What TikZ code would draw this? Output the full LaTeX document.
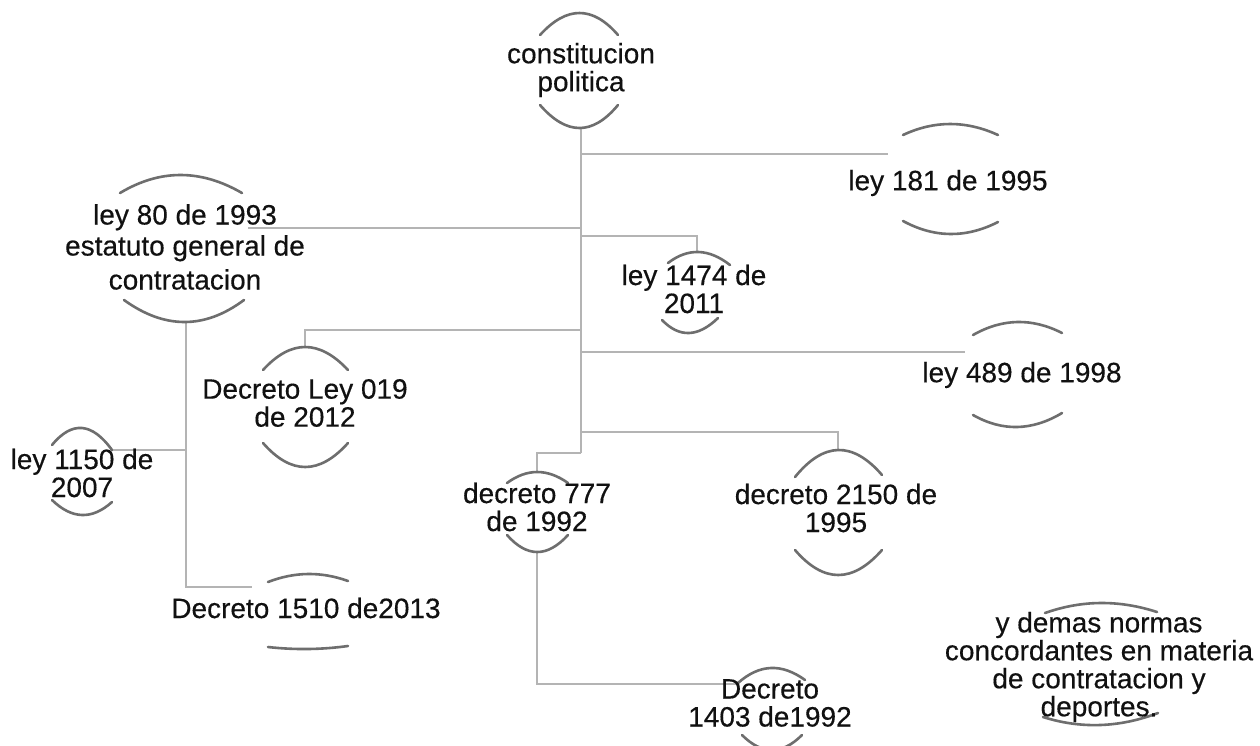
\documentclass[tikz,border=0pt]{standalone}
\usepackage{fontspec}
\setmainfont[FakeBold=0.35]{Liberation Sans}
\usetikzlibrary{calc}
\definecolor{arcgray}{HTML}{6E6E6E}
\definecolor{linegray}{HTML}{B4B4B4}
\definecolor{txt}{HTML}{111111}
\tikzset{
  lbl/.style={inner sep=0pt, align=center, text=txt, font=\fontsize{28}{28}\selectfont},
  arcline/.style={draw=arcgray, line width=2.6pt, line cap=round},
  conn/.style={draw=linegray, line width=1.8pt},
}
\newcommand\garc[6]{\draw[arcline] (#1,#2) .. controls ($(#1,#2)!0.6667!(#3,{2*#4-(#2+#6)/2})$) and ($(#5,#6)!0.6667!(#3,{2*#4-(#2+#6)/2})$) .. (#5,#6);}
\begin{document}
\begin{tikzpicture}[x=1pt,y=-1pt]
\useasboundingbox[fill=white] (0,0) rectangle (1260,745);

% ---------- connectors ----------
\coordinate (t0) at (581,128);
\coordinate (t1) at (581,453);
\draw[conn] (t0) -- (t1);
% ley 181
\coordinate (e181) at (888,154);
\draw[conn] (e181 -| t0) -- (e181);
% ley 80
\coordinate (e80) at (248,228);
\draw[conn] (e80 -| t0) -- (e80);
% ley 1474
\coordinate (e1474) at (697,252);
\coordinate (k1474) at (697,236);
\draw[conn] (k1474 -| t0) -- (k1474) -- (e1474);
% Decreto Ley 019
\coordinate (e019) at (305,347);
\coordinate (k019) at (305,330);
\draw[conn] (k019 -| t0) -- (k019) -- (e019);
% ley 489
\coordinate (e489) at (965,352);
\draw[conn] (e489 -| t0) -- (e489);
% decreto 2150
\coordinate (e2150) at (838,450);
\coordinate (k2150) at (838,432);
\draw[conn] (k2150 -| t0) -- (k2150) -- (e2150);
% decreto 777
\coordinate (e777) at (537,472);
\coordinate (k777) at (537,453);
\draw[conn] (t1) -- (k777) -- (e777);
% decreto 777 -> Decreto 1403
\coordinate (b777) at (537,552);
\coordinate (e1403) at (738,684);
\draw[conn] (b777) |- (e1403);
% ley 80 -> Decreto 1510 and ley 1150
\coordinate (b80) at (186,322);
\coordinate (e1510) at (252,587);
\draw[conn] (b80) |- (e1510);
\coordinate (e1150) at (112,450);
\draw[conn] (e1150 -| b80) -- (e1150);

% ---------- arcs ----------
% constitucion politica
\garc{540}{35}{580}{13}{618}{35}
\garc{540}{105}{580}{128}{618}{105}
% ley 80
\garc{120}{193}{180}{175}{242}{193}
\garc{124}{300}{185}{322}{244}{300}
% ley 1150
\garc{52}{445}{82}{428}{112}{450}
\garc{52}{500}{82}{515}{112}{502}
% Decreto Ley 019
\garc{263}{370}{305}{347}{348}{370}
\garc{263}{443}{305}{467}{348}{443}
% ley 1474
\garc{668}{263}{698}{252}{730}{265}
\garc{662}{320}{688}{333}{718}{318}
% ley 181
\garc{903}{135}{950}{124}{998}{135}
\garc{903}{221}{950}{234}{998}{222}
% ley 489
\garc{973}{335}{1017}{322}{1062}{333}
\garc{973}{415}{1017}{427}{1062}{413}
% decreto 2150
\garc{795}{477}{838}{450}{882}{475}
\garc{795}{550}{838}{575}{882}{550}
% decreto 777
\garc{507}{483}{537}{472}{568}{483}
\garc{507}{535}{537}{552}{568}{535}
% Decreto 1403
\garc{738}{683}{770}{668}{805}{680}
\garc{742}{735}{772}{750}{802}{735}
% Decreto 1510
\garc{268}{582}{308}{574}{348}{581}
\garc{268}{647}{308}{649}{348}{646}
% y demas normas
\garc{1045}{613}{1100}{603}{1157}{612}
\garc{1043}{717}{1100}{725}{1158}{713}

% ---------- labels ----------
\node[lbl] (cp) at (581,70) {constitucion\\politica};
\node[lbl] (l80) at (185,247) {ley 80 de 1993\\[3pt]estatuto general de\\[6pt]contratacion};
\node[lbl] (l181) at (948,183) {ley 181 de 1995};
\node[lbl] (l1474) at (694,289) {ley 1474 de\\2011};
\node[lbl] (d019) at (305,403) {Decreto Ley 019\\de 2012};
\node[lbl] (l489) at (1022,375) {ley 489 de 1998};
\node[lbl] (l1150) at (82,473) {ley 1150 de\\2007};
\node[lbl] (d777) at (537,507) {decreto 777\\de 1992};
\node[lbl] (d2150) at (836,508) {decreto 2150 de\\1995};
\node[lbl] (d1510) at (306,608) {Decreto 1510 de2013};
\node[lbl] (d1403) at (770,703) {Decreto\\1403 de1992};
\node[lbl] (ydm) at (1099,667) {y demas normas\\concordantes en materia\\de contratacion y\\deportes.};
\end{tikzpicture}
\end{document}
